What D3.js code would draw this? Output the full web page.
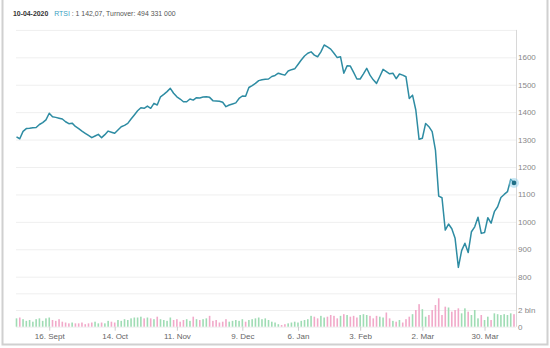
<!DOCTYPE html>
<html>
<head>
<meta charset="utf-8">
<script src="https://cdn.jsdelivr.net/npm/d3@7"></script>
<style>
  html, body { margin: 0; padding: 0; background: #fff; }
  svg { display: block; font-family: "Open Sans", "DejaVu Sans", sans-serif; }
  .grid .tick line { stroke: #efefef; }
  .grid .tick text { fill: #888; font-size: 8px; }
  .xaxis .tick line { stroke: #ccc; }
  .xaxis .tick text { fill: #666; font-size: 8px; }
</style>
</head>
<body>
<div id="chart"></div>
<script>
(function () {
    "use strict";

    // trading calendar (weekdays minus exchange holidays)
    const firstDay = "2019-09-02";
    const lastDay = "2020-04-10";
    const holidays = ["2019-11-04", "2019-12-31", "2020-01-01", "2020-01-02",
        "2020-01-07", "2020-02-24", "2020-03-09"];

    // RTSI close, one value per trading day
    const closeValues = [
        1310, 1303, 1330, 1340, 1341, 1343, 1344, 1355, 1362, 1372,
        1396, 1383, 1381, 1378, 1375, 1365, 1358, 1360, 1348, 1340,
        1331, 1323, 1315, 1307, 1313, 1319, 1307, 1318, 1331, 1327,
        1323, 1335, 1347, 1352, 1359, 1375, 1390, 1405, 1416, 1414,
        1422, 1414, 1432, 1426, 1456, 1465, 1475, 1487, 1469, 1456,
        1448, 1438, 1438, 1448, 1444, 1453, 1452, 1455, 1456, 1454,
        1442, 1441, 1440, 1436, 1420, 1426, 1430, 1434, 1450, 1459,
        1458, 1490, 1497, 1505, 1515, 1518, 1520, 1521, 1530, 1534,
        1542, 1538, 1535, 1550, 1555, 1558, 1574, 1590, 1605, 1615,
        1620, 1608, 1602, 1620, 1645, 1638, 1630, 1615, 1599, 1602,
        1542, 1569, 1568, 1545, 1521, 1521, 1540, 1560, 1535, 1518,
        1505, 1530, 1556, 1548, 1540, 1542, 1522, 1539, 1535, 1529,
        1450, 1462, 1408, 1301, 1305, 1359, 1347, 1329, 1262, 1094,
        1088, 970, 992, 975, 940, 834, 895, 922, 888, 964,
        982, 1017, 958, 961, 1015, 995, 1037, 1055, 1089, 1100,
        1110, 1155, 1142
    ];

    // turnover, billions
    const volumeBln = [
        1.0, 1.1, 0.9, 0.7, 0.8, 0.6, 0.9, 1.0, 0.7, 1.0,
        1.1, 0.8, 0.7, 0.9, 0.6, 0.5, 0.4, 0.5, 0.4, 0.4,
        0.5, 0.3, 0.4, 0.5, 0.6, 0.4, 0.5, 0.4, 0.7, 0.6,
        0.5, 0.8, 0.7, 0.9, 0.8, 1.0, 1.1, 1.1, 1.2, 1.0,
        1.1, 1.0, 0.9, 1.2, 0.9, 0.8, 0.7, 1.1, 0.8, 0.9,
        0.6, 0.8, 0.9, 0.7, 1.2, 0.9, 0.8, 0.9, 1.0, 1.3,
        0.7, 0.8, 0.5, 0.6, 0.9, 0.6, 0.7, 0.8, 0.7, 0.9,
        0.6, 0.8, 0.9, 1.0, 1.1, 0.9, 1.0, 0.8, 0.6, 0.5,
        0.3, 0.2, 0.3, 0.4, 0.5, 0.6, 0.5, 0.7, 0.8, 0.9,
        1.3, 1.2, 1.0, 1.3, 1.1, 1.2, 1.4, 1.3, 1.0, 1.3,
        1.5, 1.4, 1.2, 1.3, 1.1, 1.4, 1.5, 1.4, 1.3, 1.0,
        1.3, 1.2, 1.1, 1.7, 1.0, 0.7, 0.6, 0.8, 0.5, 0.9,
        1.2, 1.5, 2.0, 2.7, 2.1, 1.2, 1.4, 2.0, 2.6, 3.4,
        1.4, 2.4, 2.3, 1.8, 2.0, 2.2, 1.6, 2.2, 1.8, 1.4,
        2.0, 1.0, 1.4, 0.8, 1.2, 0.8, 1.6, 1.5, 1.4, 1.5,
        1.4, 1.6, 1.5
    ];

    const xTickDates = ["2019-09-16", "2019-10-14", "2019-11-11", "2019-12-09",
        "2020-01-06", "2020-02-03", "2020-03-02", "2020-03-30"];
    const xTickLabels = ["16. Sept", "14. Oct", "11. Nov", "9. Dec",
        "6. Jan", "3. Feb", "2. Mar", "30. Mar"];

    const priceTicks = [800, 900, 1000, 1100, 1200, 1300, 1400, 1500, 1600, 1700];
    const volumeTicks = [0, 2, 4];
    const volumeTickLabels = ["0", "2 bln", ""];

    const width = 550;
    const height = 348;
    const plotLeft = 16;
    const plotRight = 516;

    const parse = d3.timeParse("%Y-%m-%d");
    const fmt = d3.timeFormat("%Y-%m-%d");
    const holidaySet = new Set(holidays);
    const days = d3.timeDay.range(parse(firstDay), d3.timeDay.offset(parse(lastDay), 1))
        .filter(d => d.getDay() % 6 !== 0 && !holidaySet.has(fmt(d)))
        .map(fmt);

    const data = days.map((d, i) => ({
        date: d,
        close: closeValues[i],
        volume: volumeBln[i],
        up: i === 0 || closeValues[i] >= closeValues[i - 1]
    }));

    const xScale = d3.scalePoint().domain(days).range([16.5, 514]);
    const yScale = d3.scaleLinear().domain([800, 1700]).range([276.7, 29.9]);
    const vScale = d3.scaleLinear().domain([0, 4]).range([326.7, 293.3]);

    const svg = d3.select("#chart").append("svg")
        .attr("width", width)
        .attr("height", height);

    svg.append("rect")
        .attr("width", width)
        .attr("height", height)
        .attr("fill", "#fff");

    // card frame
    svg.append("path")
        .attr("d", "M2.5,0V344.5H547.5V0")
        .attr("fill", "none")
        .attr("stroke", "#d0d0d0")
        .attr("stroke-width", 2);

    // header
    const header = svg.append("text")
        .attr("x", 13)
        .attr("y", 16)
        .attr("font-family", "'Liberation Sans', Arial, sans-serif")
        .attr("font-size", 6.9);
    header.append("tspan").attr("font-weight", "bold").attr("fill", "#333").text("10-04-2020");
    header.append("tspan").attr("dx", 6).attr("fill", "#3a9fbf").text("RTSI");
    header.append("tspan").attr("fill", "#555").text(" : 1 142,07, Turnover: 494 331 000");

    // price grid + labels
    svg.append("g")
        .attr("class", "grid")
        .attr("transform", `translate(${plotRight},0)`)
        .call(d3.axisRight(yScale)
            .tickValues(priceTicks)
            .tickSize(-(plotRight - plotLeft))
            .tickPadding(2)
            .tickFormat(d => d === 1700 ? "" : d))
        .call(g => g.select(".domain").remove());

    // volume grid + labels
    svg.append("g")
        .attr("class", "grid")
        .attr("transform", `translate(${plotRight},0)`)
        .call(d3.axisRight(vScale)
            .tickValues(volumeTicks)
            .tickSize(-(plotRight - plotLeft))
            .tickPadding(2)
            .tickFormat((d, i) => volumeTickLabels[i]))
        .call(g => g.select(".domain").remove());

    // right axis line
    svg.append("line")
        .attr("x1", plotRight + 0.5)
        .attr("x2", plotRight + 0.5)
        .attr("y1", yScale(1700))
        .attr("y2", vScale(0))
        .attr("stroke", "#d8d8d8");

    // volume bars
    svg.append("g")
        .selectAll("rect")
        .data(data)
        .join("rect")
        .attr("x", d => xScale(d.date) - 0.8)
        .attr("width", 1.6)
        .attr("y", d => vScale(d.volume))
        .attr("height", d => vScale(0) - vScale(d.volume))
        .attr("fill", d => d.up ? "#9fdcb4" : "#f1a9c9");

    // x axis
    svg.append("g")
        .attr("class", "xaxis")
        .attr("transform", `translate(0,${vScale(0)})`)
        .call(d3.axisBottom(xScale)
            .tickValues(xTickDates)
            .tickSize(4)
            .tickPadding(3)
            .tickFormat((d, i) => xTickLabels[i]))
        .call(g => g.select(".domain").remove());

    // price line
    const line = d3.line()
        .x(d => xScale(d.date))
        .y(d => yScale(d.close));

    svg.append("path")
        .datum(data)
        .attr("d", line)
        .attr("fill", "none")
        .attr("stroke", "#2e8ca3")
        .attr("stroke-width", 1.5)
        .attr("stroke-linejoin", "round");

    // last point marker
    const last = data[data.length - 1];
    svg.append("circle")
        .attr("cx", xScale(last.date))
        .attr("cy", yScale(last.close))
        .attr("r", 5)
        .attr("fill", "#8fd0ea")
        .attr("opacity", 0.5);
    svg.append("circle")
        .attr("cx", xScale(last.date))
        .attr("cy", yScale(last.close))
        .attr("r", 2.3)
        .attr("fill", "#1f6f86");
}());
</script>
</body>
</html>
